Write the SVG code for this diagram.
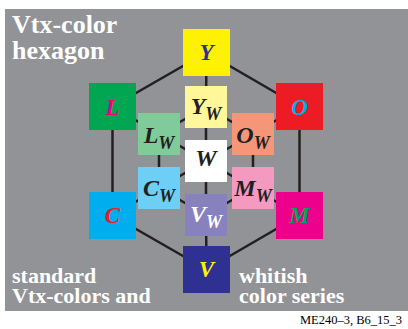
<svg xmlns="http://www.w3.org/2000/svg" width="408" height="329" viewBox="0 0 408 329">
<style>
.ln{stroke:#231f20;stroke-width:2.5;fill:none}
.lab{font-family:"Liberation Serif","Times New Roman",serif;font-weight:bold;font-style:italic;font-size:23px;text-anchor:middle}
.in{font-size:24px}
.sub{font-size:18px}
.ttl{font-family:"Liberation Serif","Times New Roman",serif;font-weight:bold;fill:#ffffff}
</style>
<rect x="0" y="0" width="408" height="329" fill="#ffffff"/>
<rect x="5" y="9" width="403" height="302" fill="#929396"/>
<g id="connectors" class="ln">
<line x1="206.5" y1="52.5" x2="112.5" y2="106.5"/>
<line x1="206.5" y1="52.5" x2="299.5" y2="106.5"/>
<line x1="112.5" y1="106.5" x2="112.5" y2="215.5"/>
<line x1="299.5" y1="106.5" x2="299.5" y2="215.5"/>
<line x1="112.5" y1="215.5" x2="206.5" y2="269.5"/>
<line x1="299.5" y1="215.5" x2="206.5" y2="269.5"/>
<line x1="206.5" y1="52.5" x2="206" y2="107"/>
<line x1="112.5" y1="106.5" x2="159" y2="134"/>
<line x1="299.5" y1="106.5" x2="253" y2="134"/>
<line x1="112.5" y1="215.5" x2="159" y2="188"/>
<line x1="299.5" y1="215.5" x2="253" y2="188"/>
<line x1="206.5" y1="269.5" x2="206" y2="215"/>
<line x1="206" y1="107" x2="159" y2="134"/>
<line x1="206" y1="107" x2="253" y2="134"/>
<line x1="159" y1="134" x2="159" y2="188"/>
<line x1="253" y1="134" x2="253" y2="188"/>
<line x1="159" y1="188" x2="206" y2="215"/>
<line x1="253" y1="188" x2="206" y2="215"/>
<line x1="206" y1="161" x2="206" y2="107"/>
<line x1="206" y1="161" x2="159" y2="134"/>
<line x1="206" y1="161" x2="253" y2="134"/>
<line x1="206" y1="161" x2="159" y2="188"/>
<line x1="206" y1="161" x2="253" y2="188"/>
<line x1="206" y1="161" x2="206" y2="215"/>
</g>
<g id="node-Y"><rect x="183" y="29" width="47" height="47" fill="#fff200"/><text class="lab" x="206.5" y="60" fill="#2e3192">Y</text></g>
<g id="node-L"><rect x="89" y="83" width="47" height="47" fill="#00a651"/><text class="lab" x="112.5" y="114.5" fill="#ec008c">L</text></g>
<g id="node-O"><rect x="276" y="83" width="47" height="47" fill="#ed1c24"/><text class="lab" x="299.5" y="114.5" fill="#00aeef">O</text></g>
<g id="node-C"><rect x="89" y="192" width="47" height="47" fill="#00aeef"/><text class="lab" x="112.5" y="223" fill="#ed1c24">C</text></g>
<g id="node-M"><rect x="276" y="192" width="47" height="47" fill="#ec008c"/><text class="lab" x="299.5" y="223" fill="#00a651">M</text></g>
<g id="node-V"><rect x="183" y="246" width="47" height="47" fill="#2e3192"/><text class="lab" x="206.5" y="277" fill="#fff200">V</text></g>
<g id="node-Yw"><rect x="185" y="86" width="42" height="42" fill="#fff799"/><text class="lab in" x="206" y="113.5" fill="#231f20">Y<tspan class="sub" dy="6">W</tspan></text></g>
<g id="node-Lw"><rect x="138" y="113" width="42" height="42" fill="#7fcb9a"/><text class="lab in" x="159" y="142.5" fill="#231f20">L<tspan class="sub" dy="6">W</tspan></text></g>
<g id="node-Ow"><rect x="232" y="113" width="42" height="42" fill="#f69679"/><text class="lab in" x="253" y="142.5" fill="#231f20">O<tspan class="sub" dy="6">W</tspan></text></g>
<g id="node-W"><rect x="185" y="140" width="42" height="42" fill="#ffffff"/><text class="lab in" x="206" y="166" fill="#231f20">W</text></g>
<g id="node-Cw"><rect x="138" y="167" width="42" height="42" fill="#6dcff6"/><text class="lab in" x="159" y="195.5" fill="#231f20">C<tspan class="sub" dy="6">W</tspan></text></g>
<g id="node-Mw"><rect x="232" y="167" width="42" height="42" fill="#f49ac1"/><text class="lab in" x="253" y="195.5" fill="#231f20">M<tspan class="sub" dy="6">W</tspan></text></g>
<g id="node-Vw"><rect x="185" y="194" width="42" height="42" fill="#8781bd"/><text class="lab in" x="206" y="222" fill="#ffffff">V<tspan class="sub" dy="6">W</tspan></text></g>
<text class="ttl" font-size="26"><tspan x="12" y="33">Vtx-color</tspan><tspan x="12" y="59">hexagon</tspan></text>
<text class="ttl" font-size="22"><tspan x="12" y="282.5">standard</tspan><tspan x="12" y="303">Vtx-colors and</tspan></text>
<text class="ttl" font-size="22"><tspan x="239" y="282.5">whitish</tspan><tspan x="239" y="303">color series</tspan></text>
<text x="402" y="324" font-family="'Liberation Serif','Times New Roman',serif" font-size="12.5" text-anchor="end" fill="#000000">ME240–3, B6_15_3</text>
</svg>
